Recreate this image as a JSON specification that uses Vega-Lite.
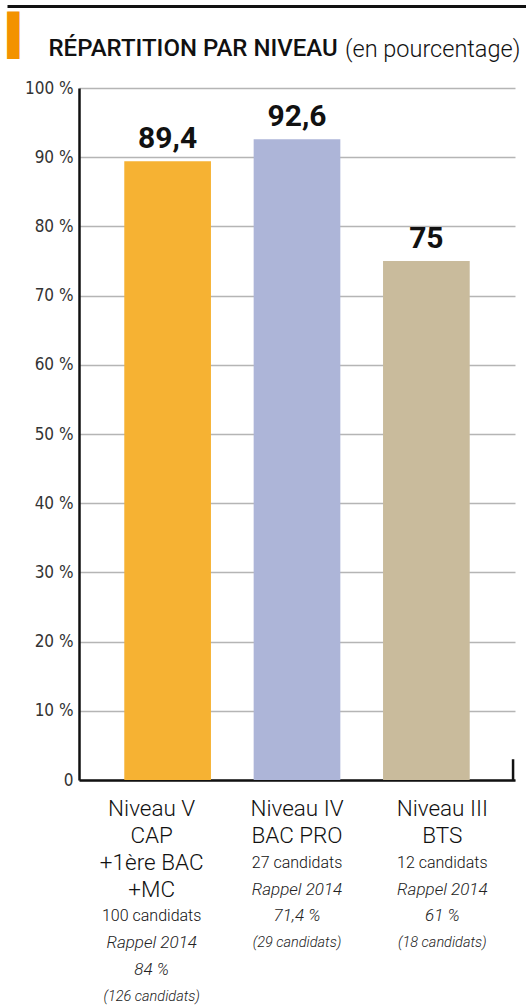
{
  "$schema": "https://vega.github.io/schema/vega-lite/v6.json",
  "padding": {"left": 7, "top": 0, "right": 0, "bottom": 0},
  "background": "white",
  "config": {
    "view": {"stroke": null},
    "locale": {"number": {"decimal": ",", "thousands": " ", "grouping": [3], "currency": ["", " €"]}}
  },
  "spacing": 4,
  "vconcat": [
    {
      "width": 436,
      "height": 0.01,
      "data": {"values": [{"t": ""}]},
      "mark": {"type": "text"},
      "encoding": {
        "text": {"field": "t"},
        "x": {
          "datum": 0, "type": "quantitative",
          "scale": {"domain": [0, 1], "range": [-72, 447]},
          "axis": {"orient": "top", "domain": true, "domainColor": "#111111", "domainWidth": 3, "domainCap": "butt", "labels": false, "ticks": false, "grid": false, "title": null, "minExtent": 0, "maxExtent": 0}
        }
      }
    },
    {
      "spacing": 8,
      "vconcat": [
        {
          "width": 436,
          "height": 692,
          "title": {
            "text": "(en pourcentage)",
            "anchor": "start",
            "frame": "bounds",
            "baseline": "alphabetic",
            "offset": 0,
            "dx": 338,
            "dy": 64,
            "font": "Roboto",
            "fontSize": 23.5,
            "fontWeight": 300,
            "color": "#111111"
          },
          "data": {"values": [
            {"niveau": "Niveau V", "taux": 89.4},
            {"niveau": "Niveau IV", "taux": 92.6},
            {"niveau": "Niveau III", "taux": 75}
          ]},
          "encoding": {
            "x": {
              "field": "niveau", "type": "nominal",
              "sort": ["Niveau V", "Niveau IV", "Niveau III"],
              "scale": {"domain": ["Niveau V", "Niveau IV", "Niveau III"], "paddingInner": 0.33, "paddingOuter": 0.35},
              "axis": {
                "labels": false, "ticks": false,
                "domainColor": "#111111", "domainWidth": 2.5,
                "minExtent": 0, "maxExtent": 2,
                "title": "RÉPARTITION PAR NIVEAU",
                "titleX": -31, "titleY": -725, "titleAngle": 0,
                "titleAlign": "left", "titleBaseline": "alphabetic", "titleAnchor": null,
                "titleFont": "Roboto", "titleFontSize": 24, "titleFontWeight": 500, "titleColor": "#111111"
              }
            },
            "y": {
              "field": "taux", "type": "quantitative",
              "scale": {"domain": [0, 100], "nice": false},
              "axis": {
                "values": [0, 10, 20, 30, 40, 50, 60, 70, 80, 90, 100],
                "labelExpr": "datum.value == 0 ? '0' : datum.value + ' %'",
                "ticks": false,
                "domainColor": "#111111", "domainWidth": 2.5,
                "gridColor": "#b5b5b5", "gridWidth": 1.5,
                "labelFont": "Liberation Sans Narrow, DejaVu Sans Condensed, Roboto",
                "labelFontSize": 17, "labelColor": "#333333", "labelPadding": 6,
                "labelFlush": false,
                "minExtent": 72, "maxExtent": 72,
                "title": "▌",
                "titleX": -72, "titleY": -40, "titleAngle": 0,
                "titleAlign": "left", "titleBaseline": "alphabetic", "titleAnchor": null,
                "titleFont": "DejaVu Sans Mono", "titleFontSize": 40, "titleFontWeight": "normal", "titleColor": "#F39200"
              }
            }
          },
          "layer": [
            {
              "mark": {"type": "bar"},
              "encoding": {
                "color": {
                  "field": "niveau", "type": "nominal",
                  "scale": {"domain": ["Niveau V", "Niveau IV", "Niveau III"], "range": ["#F6B233", "#ADB5D8", "#C9BB9C"]},
                  "legend": null
                }
              }
            },
            {
              "mark": {"type": "text", "baseline": "alphabetic", "dy": -13, "font": "Roboto", "fontWeight": "bold", "fontSize": 30, "color": "#111111"},
              "encoding": {"text": {"field": "taux", "type": "quantitative", "format": ".1~f"}}
            },
            {
              "data": {"values": [{"niveau": "Niveau III", "bas": 0, "haut": 3}]},
              "mark": {"type": "rule", "color": "#111111", "strokeWidth": 2.5},
              "encoding": {
                "x": {"field": "niveau", "type": "nominal", "sort": ["Niveau V", "Niveau IV", "Niveau III"], "bandPosition": 1.5},
                "y": {"field": "bas", "type": "quantitative"},
                "y2": {"field": "haut"}
              }
            }
          ]
        },
        {
          "width": 436,
          "height": 214,
          "data": {"values": [
            {"niveau": "Niveau V", "ligne": 1, "texte": "Niveau V", "genre": "titre"},
            {"niveau": "Niveau V", "ligne": 2, "texte": "CAP", "genre": "titre"},
            {"niveau": "Niveau V", "ligne": 3, "texte": "+1ère BAC", "genre": "titre"},
            {"niveau": "Niveau V", "ligne": 4, "texte": "+MC", "genre": "titre"},
            {"niveau": "Niveau V", "ligne": 5, "texte": "100 candidats", "genre": "effectif"},
            {"niveau": "Niveau V", "ligne": 6, "texte": "Rappel 2014", "genre": "rappel"},
            {"niveau": "Niveau V", "ligne": 7, "texte": "84 %", "genre": "rappel"},
            {"niveau": "Niveau V", "ligne": 8, "texte": "(126 candidats)", "genre": "rappel_effectif"},
            {"niveau": "Niveau IV", "ligne": 1, "texte": "Niveau IV", "genre": "titre"},
            {"niveau": "Niveau IV", "ligne": 2, "texte": "BAC PRO", "genre": "titre"},
            {"niveau": "Niveau IV", "ligne": 3, "texte": "27 candidats", "genre": "effectif"},
            {"niveau": "Niveau IV", "ligne": 4, "texte": "Rappel 2014", "genre": "rappel"},
            {"niveau": "Niveau IV", "ligne": 5, "texte": "71,4 %", "genre": "rappel"},
            {"niveau": "Niveau IV", "ligne": 6, "texte": "(29 candidats)", "genre": "rappel_effectif"},
            {"niveau": "Niveau III", "ligne": 1, "texte": "Niveau III", "genre": "titre"},
            {"niveau": "Niveau III", "ligne": 2, "texte": "BTS", "genre": "titre"},
            {"niveau": "Niveau III", "ligne": 3, "texte": "12 candidats", "genre": "effectif"},
            {"niveau": "Niveau III", "ligne": 4, "texte": "Rappel 2014", "genre": "rappel"},
            {"niveau": "Niveau III", "ligne": 5, "texte": "61 %", "genre": "rappel"},
            {"niveau": "Niveau III", "ligne": 6, "texte": "(18 candidats)", "genre": "rappel_effectif"}
          ]},
          "encoding": {
            "x": {
              "field": "niveau", "type": "nominal",
              "sort": ["Niveau V", "Niveau IV", "Niveau III"],
              "scale": {"domain": ["Niveau V", "Niveau IV", "Niveau III"], "paddingInner": 0.33, "paddingOuter": 0.35},
              "axis": null
            },
            "y": {
              "field": "ligne", "type": "ordinal",
              "scale": {"domain": [1, 2, 3, 4, 5, 6, 7, 8], "paddingInner": 0, "paddingOuter": 0},
              "axis": {"labels": false, "ticks": false, "domain": false, "grid": false, "title": null, "minExtent": 72, "maxExtent": 72}
            },
            "text": {"field": "texte"}
          },
          "layer": [
            {
              "transform": [{"filter": "datum.genre == 'titre'"}],
              "mark": {"type": "text", "baseline": "middle", "font": "Roboto", "fontWeight": 300, "fontSize": 22.5, "color": "#111111"}
            },
            {
              "transform": [{"filter": "datum.genre == 'effectif'"}],
              "mark": {"type": "text", "baseline": "middle", "font": "Roboto", "fontWeight": 300, "fontSize": 16, "color": "#111111"}
            },
            {
              "transform": [{"filter": "datum.genre == 'rappel'"}],
              "mark": {"type": "text", "baseline": "middle", "font": "Roboto", "fontWeight": 300, "fontStyle": "italic", "fontSize": 17, "color": "#222222"}
            },
            {
              "transform": [{"filter": "datum.genre == 'rappel_effectif'"}],
              "mark": {"type": "text", "baseline": "middle", "font": "Roboto", "fontWeight": 300, "fontStyle": "italic", "fontSize": 14.5, "color": "#222222"}
            }
          ]
        }
      ]
    }
  ]
}
